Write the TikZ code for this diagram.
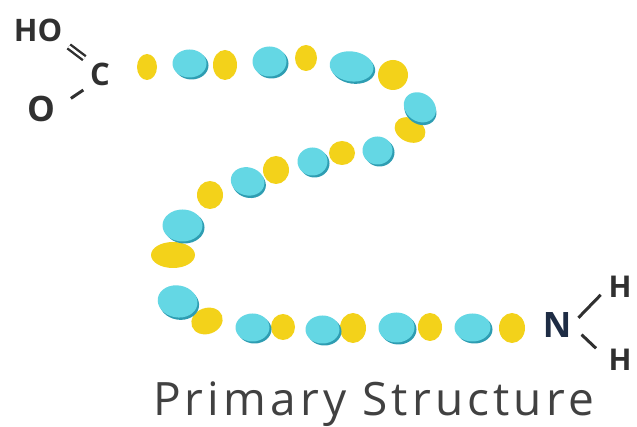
\documentclass[tikz,border=0pt]{standalone}
\usepackage{fontspec}
\setmainfont{Open Sans}
\newfontfamily\captionfont[LetterSpace=9]{Open Sans}
\usetikzlibrary{calc}

\definecolor{beadcyan}{HTML}{64D7E4}
\definecolor{beadshade}{HTML}{2E9DB2}
\definecolor{beadyellow}{HTML}{F3D21A}
\definecolor{atomgray}{HTML}{303030}
\definecolor{atomnavy}{HTML}{1E2C44}
\definecolor{labelgray}{HTML}{414141}

\tikzset{
  atom/.style={inner sep=0pt, text=atomgray, font=\fontsize{31}{31}\selectfont\bfseries},
  bond/.style={draw=atomgray, line width=3pt},
}

\begin{document}
\begin{tikzpicture}[x=1pt, y=-1pt]
  \useasboundingbox (0,0) rectangle (637,427);

  % amino acids: yellow ones
  \foreach \x/\y/\a/\b/\r in {147/67/10/13/0, 225/65/12/15/0, 306/58/11/13/0,
      393/75/15/15/0, 410/130/16/12/-25, 342/153/13/12/0, 276/170/13/14/0,
      210/195/13/14/0, 173/255/22/13/0, 207/321/16/13/20, 283/327/12/13/0,
      353/328/13/15/0, 430/327/12/14/0, 512/328/13/15/0}
    \fill[beadyellow, rotate around={\r:(\x,\y)}] (\x,\y) ellipse ({\a pt} and {\b pt});

  % cyan ones, with a darker rim at the lower right
  \foreach \x/\y/\a/\b/\r in {190/64/17/14/0, 270/62/17/15/0, 352/67/22/15/-8,
      420/108/17/14/-35, 378/151/15/14/0, 313/162/15/14/0, 248/182/17/14/-15,
      183/226/20/16/0, 178/302/20/16/-10, 253/328/17/14/0, 323/330/17/14/0,
      397/328/18/15/0, 473/328/18/14/0}
  {
    \fill[beadshade, rotate around={\r:(\x,\y)}] (\x+1.5,\y+1.5) ellipse ({\a pt} and {\b pt});
    \fill[beadcyan, rotate around={\r:(\x,\y)}] (\x-0.5,\y-0.5) ellipse ({\a pt} and {\b pt});
  }

  % carboxyl end
  \node[atom] (hoxyl) at (38,30) {HO};
  \node[atom] (ccarb) at (100,74) {C};
  \node[atom, font=\fontsize{35}{35}\selectfont\bfseries] (oxy) at (41,109) {O};
  \draw[bond, double, double distance=2.4pt, line width=2.4pt, shorten <=8pt, shorten >=7pt]
    (hoxyl.south east) -- (ccarb.north west);
  \draw[bond, shorten <=19pt, shorten >=8pt] (oxy.east) -- (ccarb.south west);

  % amino end
  \node[atom, text=atomnavy, font=\fontsize{35}{35}\selectfont\bfseries] (nitro) at (557,325) {N};
  \node[atom, font=\fontsize{30}{30}\selectfont\bfseries] (hup) at (620,287) {H};
  \node[atom, font=\fontsize{30}{30}\selectfont\bfseries] (hdown) at (620,360) {H};
  \draw[bond, shorten <=10pt, shorten >=11pt] (nitro.east) -- (hup.west);
  \draw[bond, shorten <=14pt, shorten >=17pt] (nitro.east) -- (hdown.west);

  \node[anchor=base west, inner sep=0pt, text=labelgray, font=\captionfont\fontsize{46}{46}\selectfont] (caption) at (153,415) {Primary Structure};
\end{tikzpicture}
\end{document}
